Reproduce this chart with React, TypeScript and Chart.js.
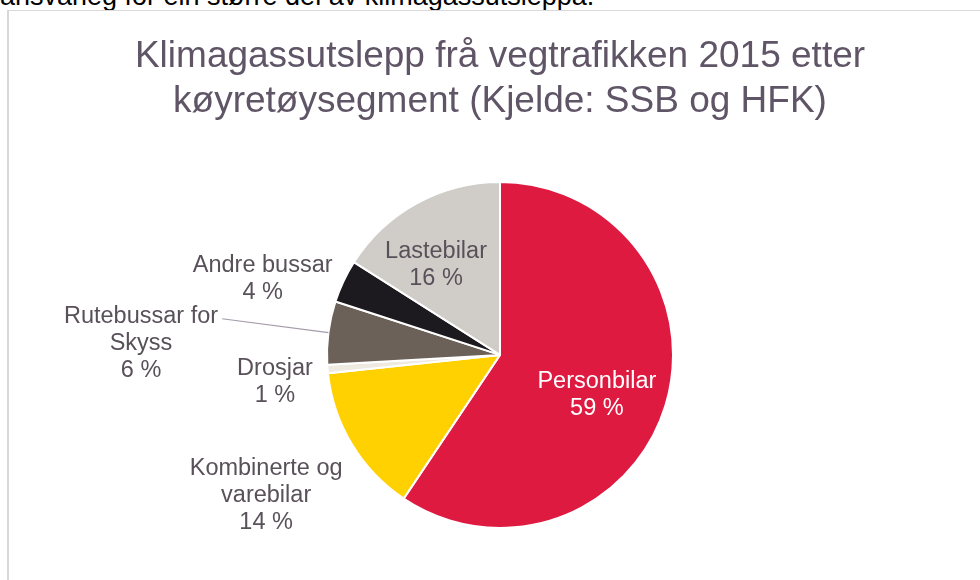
import React, { useEffect, useRef } from "react";
import { Chart, registerables } from "chart.js";

Chart.register(...registerables);

// ---- Data ----
const categories = [
  "Personbilar",
  "Kombinerte og varebilar",
  "Drosjar",
  "Rutebussar for Skyss",
  "Andre bussar",
  "Lastebilar",
];
const labelLines = [
  ["Personbilar"],
  ["Kombinerte og", "varebilar"],
  ["Drosjar"],
  ["Rutebussar for", "Skyss"],
  ["Andre bussar"],
  ["Lastebilar"],
];
const shares = [59.4, 13.9, 0.8, 5.9, 4.0, 16.0];
const titleLines = [
  "Klimagassutslepp frå vegtrafikken 2015 etter",
  "køyretøysegment (Kjelde: SSB og HFK)",
];
const introText = "ansvarleg for ein større del av klimagassutsleppa.";

// ---- Styles ----
const sliceColors = ["#DE1A41", "#FFD100", "#EEE9E1", "#6B6158", "#1C1A1E", "#D0CDC8"];
const labelColors = ["#FFFFFF", "#595159", "#595159", "#595159", "#595159", "#595159"];
const labelPlacement = [
  { dist: 0.607, dAngle: 5.8, leader: false },
  { dist: 1.576, dAngle: 0.2, leader: false },
  { dist: 1.31, dAngle: -2.1, leader: false },
  { dist: 2.076, dAngle: -5.6, leader: true },
  { dist: 1.44, dAngle: -7.5, leader: false },
  { dist: 0.64, dAngle: -6.5, leader: false },
];
const FONT = '"Liberation Sans", Arial, sans-serif';
const LABEL_SIZE = 23.5;
const LINE_STEP = 27;

const labelPlugin = {
  id: "sliceLabels",
  afterDatasetsDraw(chart: any) {
    const meta = chart.getDatasetMeta(0);
    const ctx = chart.ctx as CanvasRenderingContext2D;
    ctx.save();
    ctx.font = `${LABEL_SIZE}px ${FONT}`;
    ctx.textAlign = "center";
    ctx.textBaseline = "middle";
    meta.data.forEach((arc: any, i: number) => {
      const { x, y, startAngle, endAngle, outerRadius } = arc.getProps(
        ["x", "y", "startAngle", "endAngle", "outerRadius"],
        true
      );
      const mid = (startAngle + endAngle) / 2;
      const p = labelPlacement[i];
      const a = mid + (p.dAngle * Math.PI) / 180;
      const cx = x + Math.cos(a) * outerRadius * p.dist;
      const cy = y + Math.sin(a) * outerRadius * p.dist;
      const lines = [...labelLines[i], `${Math.round(shares[i])} %`];
      const y0 = cy - ((lines.length - 1) * LINE_STEP) / 2;
      ctx.fillStyle = labelColors[i];
      lines.forEach((t, k) => ctx.fillText(t, cx, y0 + k * LINE_STEP));
      if (p.leader) {
        const w = ctx.measureText(lines[0]).width;
        ctx.beginPath();
        ctx.moveTo(x + Math.cos(mid) * outerRadius, y + Math.sin(mid) * outerRadius);
        ctx.lineTo(cx + w / 2 + 4, y0 + 2);
        ctx.strokeStyle = "#A59BAA";
        ctx.lineWidth = 1.2;
        ctx.stroke();
      }
    });
    ctx.restore();
  },
};

export default function App() {
  const canvasRef = useRef<HTMLCanvasElement | null>(null);

  useEffect(() => {
    if (!canvasRef.current) return;
    const chart = new Chart(canvasRef.current, {
      type: "pie",
      data: {
        labels: categories,
        datasets: [
          {
            data: shares,
            backgroundColor: sliceColors,
            borderColor: "#FFFFFF",
            borderWidth: 2,
          },
        ],
      },
      options: {
        responsive: false,
        animation: false,
        radius: 173,
        layout: { padding: { left: 11, right: 0, top: 0, bottom: 52 } },
        plugins: {
          legend: { display: false },
          tooltip: { enabled: false },
          title: {
            display: true,
            text: titleLines,
            color: "#5F5566",
            font: { family: FONT, size: 37, weight: "normal", lineHeight: 1.2 },
            padding: { top: 24, bottom: 58 },
          },
        },
      },
      plugins: [labelPlugin],
    });
    return () => chart.destroy();
  }, []);

  return (
    <div
      style={{
        position: "fixed",
        left: 0,
        top: 0,
        width: 980,
        height: 580,
        overflow: "hidden",
        background: "#FFFFFF",
      }}
    >
      <div
        style={{
          position: "absolute",
          left: 0,
          top: -17,
          fontFamily: FONT,
          fontSize: 27,
          lineHeight: "27px",
          color: "#000000",
          whiteSpace: "nowrap",
        }}
      >
        {introText}
      </div>
      <div
        style={{
          position: "absolute",
          left: 7,
          top: 10,
          width: 973,
          height: 570,
          borderTop: "1px solid #D9D9D9",
          borderLeft: "2px solid #D9D5DB",
          boxSizing: "border-box",
        }}
      />
      <canvas
        ref={canvasRef}
        width={971}
        height={569}
        style={{ position: "absolute", left: 9, top: 11, width: 971, height: 569 }}
      />
    </div>
  );
}
